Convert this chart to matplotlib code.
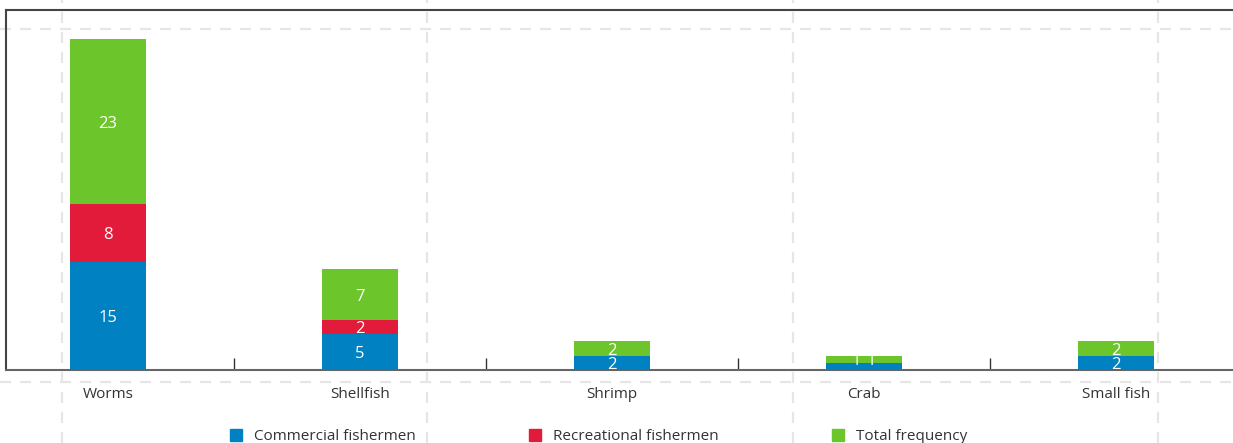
import numpy as np
import matplotlib.pyplot as plt
from matplotlib.lines import Line2D
from matplotlib.patches import Rectangle

plt.rcParams['font.family'] = ['Open Sans', 'DejaVu Sans']

categories = ['Worms', 'Shellfish', 'Shrimp', 'Crab', 'Small fish']
commercial = [15, 5, 2, 1, 2]
recreational = [8, 2, 0, 0, 0]
total = [23, 7, 2, 1, 2]

series = ['Commercial fishermen', 'Recreational fishermen', 'Total frequency']
colors = ['#0081c1', '#e31b3a', '#6bc52b']

fig = plt.figure(figsize=(12.33, 4.43), dpi=100)
ax = fig.add_axes([6 / 1233, 73 / 443, 1 - 6 / 1233, 360 / 443])
ax.set_facecolor('none')

x = np.arange(len(categories))
bar_width = 0.30
bottom = np.zeros(len(categories))
for vals, col in zip([commercial, recreational, total], colors):
    vals = np.array(vals, dtype=float)
    ax.bar(x, vals, width=bar_width, bottom=bottom, color=col, zorder=3)
    for i, v in enumerate(vals):
        if v <= 0:
            continue
        if v < 2:
            # tiny segments: labels sit side by side
            xi = x[i] + (-0.03 if col == colors[0] else 0.03)
            yi = 1.2
        else:
            xi = x[i]
            yi = bottom[i] + v / 2 - 0.3
        ax.text(xi, yi, f'{int(v)}', ha='center', va='center', color='white',
                fontsize=12, zorder=4)
    bottom += vals

ax.set_xlim(-0.405, 4.464)
ax.set_ylim(0, 50)

ax.set_yticks([])
ax.set_xticks(x[:-1] + 0.5)
ax.set_xticklabels([])
ax.tick_params(axis='x', which='major', direction='in', length=9, width=1, color='#333333')
ax.set_xticks(x, minor=True)
ax.set_xticklabels(categories, minor=True)
ax.tick_params(axis='x', which='minor', length=0, pad=12, labelsize=11, labelcolor='#333333')

for side in ['top', 'left']:
    ax.spines[side].set_color('#444444')
    ax.spines[side].set_linewidth(1.5)
ax.spines['bottom'].set_color('#666666')
ax.spines['bottom'].set_linewidth(1.5)
ax.spines['right'].set_visible(False)

# decorative dashed guide lines across the figure
guide = dict(color='#e6e6e6', linewidth=1.6, linestyle=(0, (5, 4)), zorder=0)
for px in [62, 427, 793, 1158]:
    fig.add_artist(Line2D([px / 1233, px / 1233], [0, 1], **guide))
for py in [29, 382]:
    fig.add_artist(Line2D([0, 1], [1 - py / 443, 1 - py / 443], **guide))

# legend along the bottom
leg_x = [230, 529, 832]
for lx, name, col in zip(leg_x, series, colors):
    fig.add_artist(Rectangle((lx / 1233, 2 / 443), 12 / 1233, 12 / 443,
                             transform=fig.transFigure, color=col))
    fig.text((lx + 24) / 1233, 7 / 443, name, fontsize=11, color='#333333',
             va='center', ha='left')

fig.savefig('out.png', dpi=100)
